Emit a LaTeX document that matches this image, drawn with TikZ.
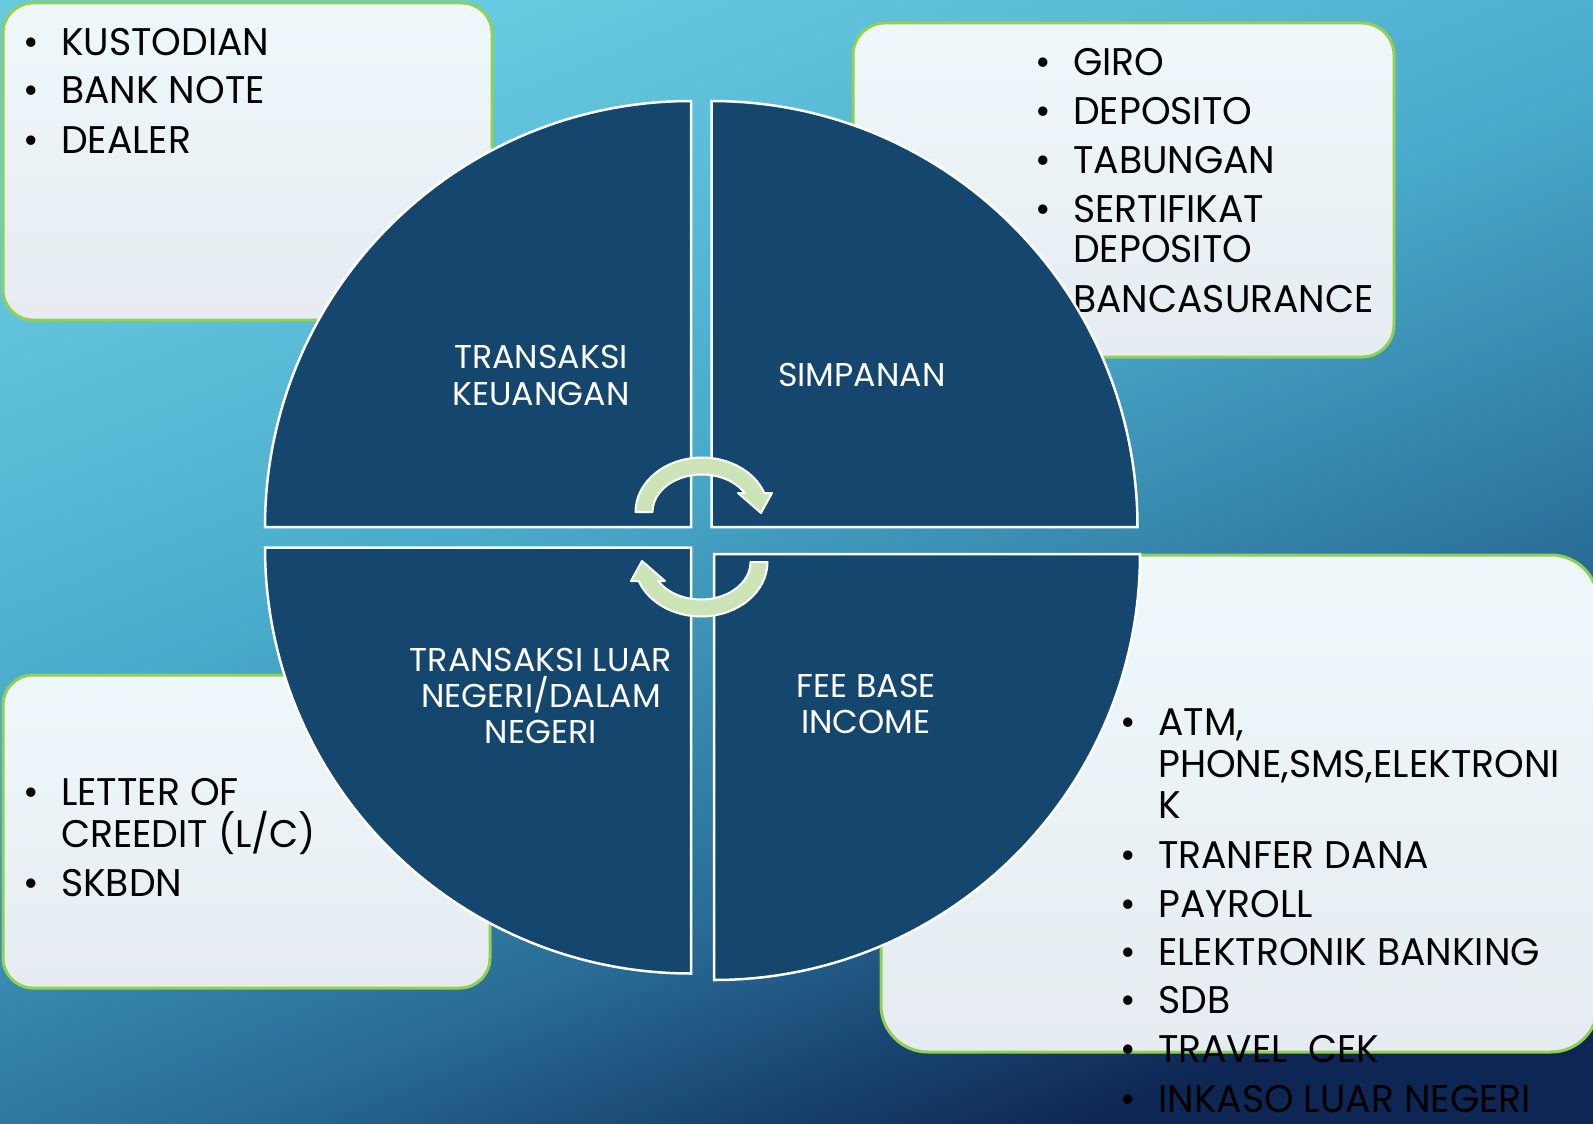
\documentclass[tikz,border=0pt]{standalone}
\usepackage{fontspec}
\newfontfamily\pop{Poppins}[FakeStretch=0.98]
\newfontfamily\poplabel{Poppins}[FakeStretch=1.01]
\definecolor{bgL}{RGB}{104,202,224}
\definecolor{bgM}{RGB}{74,172,204}
\definecolor{bgN}{RGB}{40,108,150}
\definecolor{bgD}{RGB}{14,38,84}
\definecolor{quad}{RGB}{21,70,110}
\definecolor{boxline}{RGB}{146,208,80}
\definecolor{boxtop}{RGB}{238,248,251}
\definecolor{boxbot}{RGB}{230,236,241}
\definecolor{arrowfill}{RGB}{205,228,184}
\pgfdeclareverticalshading{bgshade}{100bp}{color(0bp)=(bgD); color(25bp)=(bgD); color(38bp)=(bgN); color(56bp)=(bgM); color(75bp)=(bgL); color(100bp)=(bgL)}
\tikzset{
  infobox/.style={draw=boxline, line width=3pt, top color=boxtop, bottom color=boxbot},
  quadrant/.style={fill=quad, draw=white, line width=2.5pt},
  cyclearrow/.style={fill=arrowfill, draw=white, line width=2pt, line join=round},
  itemtext/.style={anchor=base west, inner sep=0pt, font=\pop\fontsize{38.5}{46}\selectfont, text=black},
  bulletmark/.style={anchor=base, inner sep=0pt, font=\pop\fontsize{38.5}{46}\selectfont, text=black},
  quadlabel/.style={anchor=base, inner sep=0pt, font=\poplabel\fontsize{33}{40}\selectfont, text=white}
}
\begin{document}
\begin{tikzpicture}[x=1pt,y=-1pt]
\useasboundingbox (0,0) rectangle (1593,1124);
\shade[shading=bgshade, shading angle=22] (0,0) rectangle (1593,1124);

% boxes
\path[infobox, rounded corners=30pt] (3,3) rectangle (492,320);
\path[infobox, rounded corners=32pt] (853,23) rectangle (1394,357);
\path[infobox, rounded corners=30pt] (3,675) rectangle (490,988);
\path[infobox, rounded corners=47pt] (881,555) rectangle (1598,1052);

% top-left box text
\node[bulletmark] (b1) at (31,56) {•};
\node[itemtext] (t1) at (61,56) {KUSTODIAN};
\node[bulletmark] (b2) at (31,103) {•};
\node[itemtext] (t2) at (61,103) {BANK NOTE};
\node[bulletmark] (b3) at (31,153) {•};
\node[itemtext] (t3) at (61,153) {DEALER};

% top-right box text
\node[bulletmark] (b4) at (1043,75) {•};
\node[itemtext] (t4) at (1073,75) {GIRO};
\node[bulletmark] (b5) at (1043,124) {•};
\node[itemtext] (t5) at (1073,124) {DEPOSITO};
\node[bulletmark] (b6) at (1043,173) {•};
\node[itemtext] (t6) at (1073,173) {TABUNGAN};
\node[bulletmark] (b7) at (1043,222) {•};
\node[itemtext] (t7) at (1073,222) {SERTIFIKAT};
\node[itemtext] (t7b) at (1073,262) {DEPOSITO};
\node[itemtext] (t8) at (1073,312) {BANCASURANCE};

% bottom-left box text
\node[bulletmark] (b9) at (31,805) {•};
\node[itemtext] (t9) at (61,805) {LETTER OF};
\node[itemtext] (t9b) at (61,847) {CREEDIT (L/C)};
\node[bulletmark] (b10) at (31,896) {•};
\node[itemtext] (t10) at (61,896) {SKBDN};

% bottom-right box text
\node[bulletmark] (b11) at (1128,735) {•};
\node[itemtext] (t11) at (1158,735) {ATM,};
\node[itemtext] (t11b) at (1158,777) {PHONE,SMS,ELEKTRONI};
\node[itemtext] (t11c) at (1158,818) {K};
\node[bulletmark] (b12) at (1128,868) {•};
\node[itemtext] (t12) at (1158,868) {TRANFER DANA};
\node[bulletmark] (b13) at (1128,917) {•};
\node[itemtext] (t13) at (1158,917) {PAYROLL};
\node[bulletmark] (b14) at (1128,965) {•};
\node[itemtext] (t14) at (1158,965) {ELEKTRONIK BANKING};
\node[bulletmark] (b15) at (1128,1013) {•};
\node[itemtext] (t15) at (1158,1013) {SDB};
\node[bulletmark] (b16) at (1128,1062) {•};
\node[itemtext] (t16) at (1158,1062) {TRAVEL~ CEK};
\node[bulletmark] (b17) at (1128,1112) {•};
\node[itemtext] (t17) at (1158,1112) {INKASO LUAR NEGERI};

% quadrants
\path[quadrant] (691,527) -- (265,527) arc[start angle=180, end angle=270, radius=426] -- cycle;
\path[quadrant] (711.5,527) -- (711.5,101) arc[start angle=270, end angle=360, radius=426] -- cycle;
\path[quadrant] (691,547.5) -- (691,973.5) arc[start angle=90, end angle=180, radius=426] -- cycle;
\path[quadrant] (714,554) -- (1140,554) arc[start angle=0, end angle=90, radius=426] -- cycle;

% cycle arrows
\path[cyclearrow] (652.5,512) -- (635.5,512)
  arc[start angle=180, end angle=339.6, x radius=66.5, y radius=54.5]
  -- (772,493) -- (761,513) -- (738,493) -- (744.7,493)
  arc[start angle=329.6, end angle=180, x radius=49.5, y radius=37.5] -- cycle;
\path[cyclearrow, rotate around={180:(701.5,537)}] (652.5,512) -- (635.5,512)
  arc[start angle=180, end angle=339.6, x radius=66.5, y radius=54.5]
  -- (772,493) -- (761,513) -- (738,493) -- (744.7,493)
  arc[start angle=329.6, end angle=180, x radius=49.5, y radius=37.5] -- cycle;

% quadrant labels
\node[quadlabel] (q1a) at (541,368) {TRANSAKSI};
\node[quadlabel] (q1b) at (541,405) {KEUANGAN};
\node[quadlabel] (q2) at (862,386) {SIMPANAN};
\node[quadlabel] (q3a) at (541,671) {TRANSAKSI LUAR};
\node[quadlabel] (q3b) at (541,707) {NEGERI/DALAM};
\node[quadlabel] (q3c) at (541,743) {NEGERI};
\node[quadlabel] (q4a) at (866,697) {FEE BASE};
\node[quadlabel] (q4b) at (866,733) {INCOME};
\end{tikzpicture}
\end{document}
